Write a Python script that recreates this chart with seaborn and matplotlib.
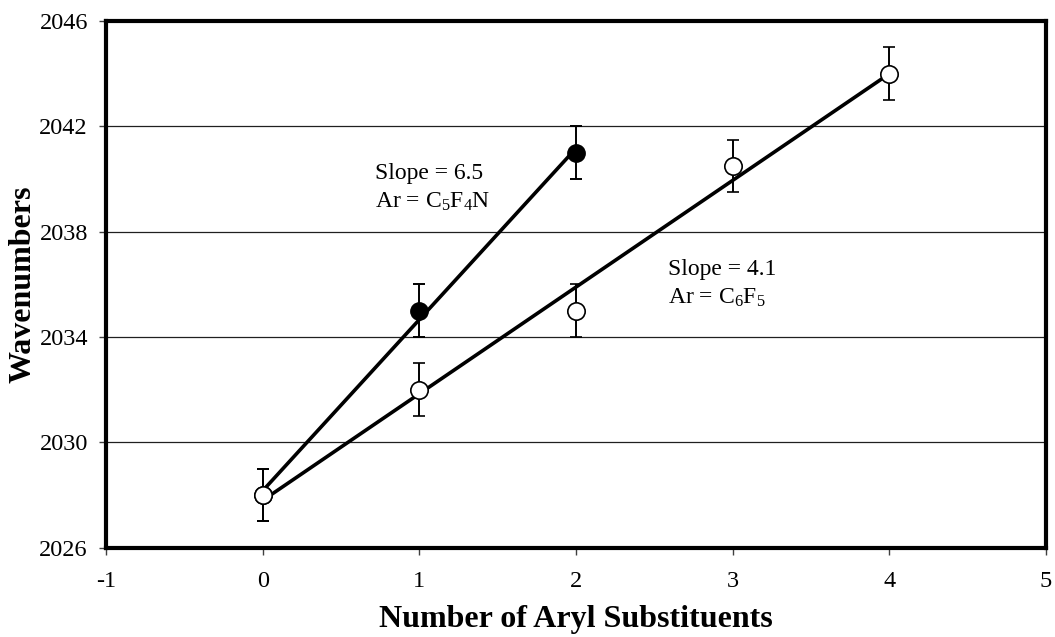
"""Wavenumber shift versus number of aryl substituents."""

import matplotlib
matplotlib.use("Agg")
import matplotlib.pyplot as plt
import numpy as np
import pandas as pd
import seaborn as sns

# Data
c6f5_n = [0, 1, 2, 3, 4]
c6f5_wn = [2028, 2032, 2035, 2040.5, 2044]
c5f4n_n = [0, 1, 2]
c5f4n_wn = [2028, 2035, 2041]
err = 1.0

y_ticks = [2026, 2030, 2034, 2038, 2042, 2046]
x_ticks = [-1, 0, 1, 2, 3, 4, 5]


def main():
    sns.set_style("white")
    plt.rcParams["font.family"] = ["Liberation Serif", "DejaVu Serif"]
    plt.rcParams["mathtext.fontset"] = "custom"
    plt.rcParams["mathtext.rm"] = "Liberation Serif"
    plt.rcParams["mathtext.it"] = "Liberation Serif:italic"
    plt.rcParams["axes.unicode_minus"] = False
    plt.rcParams["text.color"] = "black"
    plt.rcParams["axes.labelcolor"] = "black"
    plt.rcParams["xtick.color"] = "black"
    plt.rcParams["ytick.color"] = "black"

    c6f5 = pd.DataFrame({"n": c6f5_n, "wn": c6f5_wn})
    c5f4n = pd.DataFrame({"n": c5f4n_n, "wn": c5f4n_wn})

    fig = plt.figure(figsize=(10.55, 6.37), dpi=100)
    ax = fig.add_axes([0.1005, 0.140, 0.8910, 0.827])

    # horizontal gridlines
    for y in y_ticks[1:-1]:
        ax.axhline(y, color="#202020", lw=0.9, zorder=0)

    # fitted lines
    sns.regplot(data=c5f4n, x="n", y="wn", ax=ax, ci=None, scatter=False,
                line_kws={"color": "black", "lw": 2.6, "zorder": 2})
    sns.regplot(data=c6f5, x="n", y="wn", ax=ax, ci=None, scatter=False,
                line_kws={"color": "black", "lw": 2.6, "zorder": 2})

    # points with error bars
    ax.errorbar(c5f4n["n"], c5f4n["wn"], yerr=err, fmt="o", ms=12.5,
                mfc="black", mec="black", ecolor="black", elinewidth=1.4,
                capsize=4.3, capthick=1.4, zorder=3)
    ax.errorbar(c6f5["n"], c6f5["wn"], yerr=err, fmt="o", ms=12.5,
                mfc="white", mec="black", mew=1.2, ecolor="black",
                elinewidth=1.4, capsize=4.3, capthick=1.4, zorder=4)

    ax.text(0.72, 2040.0, "Slope = 6.5", fontsize=17)
    ax.text(0.72, 2038.9, r"Ar = C$_5$F$_4$N", fontsize=17)
    ax.text(2.59, 2036.35, "Slope = 4.1", fontsize=17)
    ax.text(2.59, 2035.25, r"Ar = C$_6$F$_5$", fontsize=17)

    ax.set_xlim(-1, 5)
    ax.set_ylim(2026, 2046)
    ax.set_xticks(x_ticks)
    ax.set_yticks(y_ticks)
    ax.tick_params(axis="both", labelsize=17.5, direction="out", length=5,
                   width=1, color="#404040", left=True, bottom=True)
    ax.tick_params(axis="x", pad=12)
    ax.tick_params(axis="y", pad=8)

    for s in ax.spines.values():
        s.set_visible(True)
        s.set_color("black")
        s.set_linewidth(3)

    ax.set_xlabel("Number of Aryl Substituents", fontsize=23,
                  fontweight="bold", labelpad=9)
    ax.set_ylabel("Wavenumbers", fontsize=23, fontweight="bold", labelpad=1)

    fig.savefig("out.png", dpi=100)
    plt.close(fig)


if __name__ == "__main__":
    main()
